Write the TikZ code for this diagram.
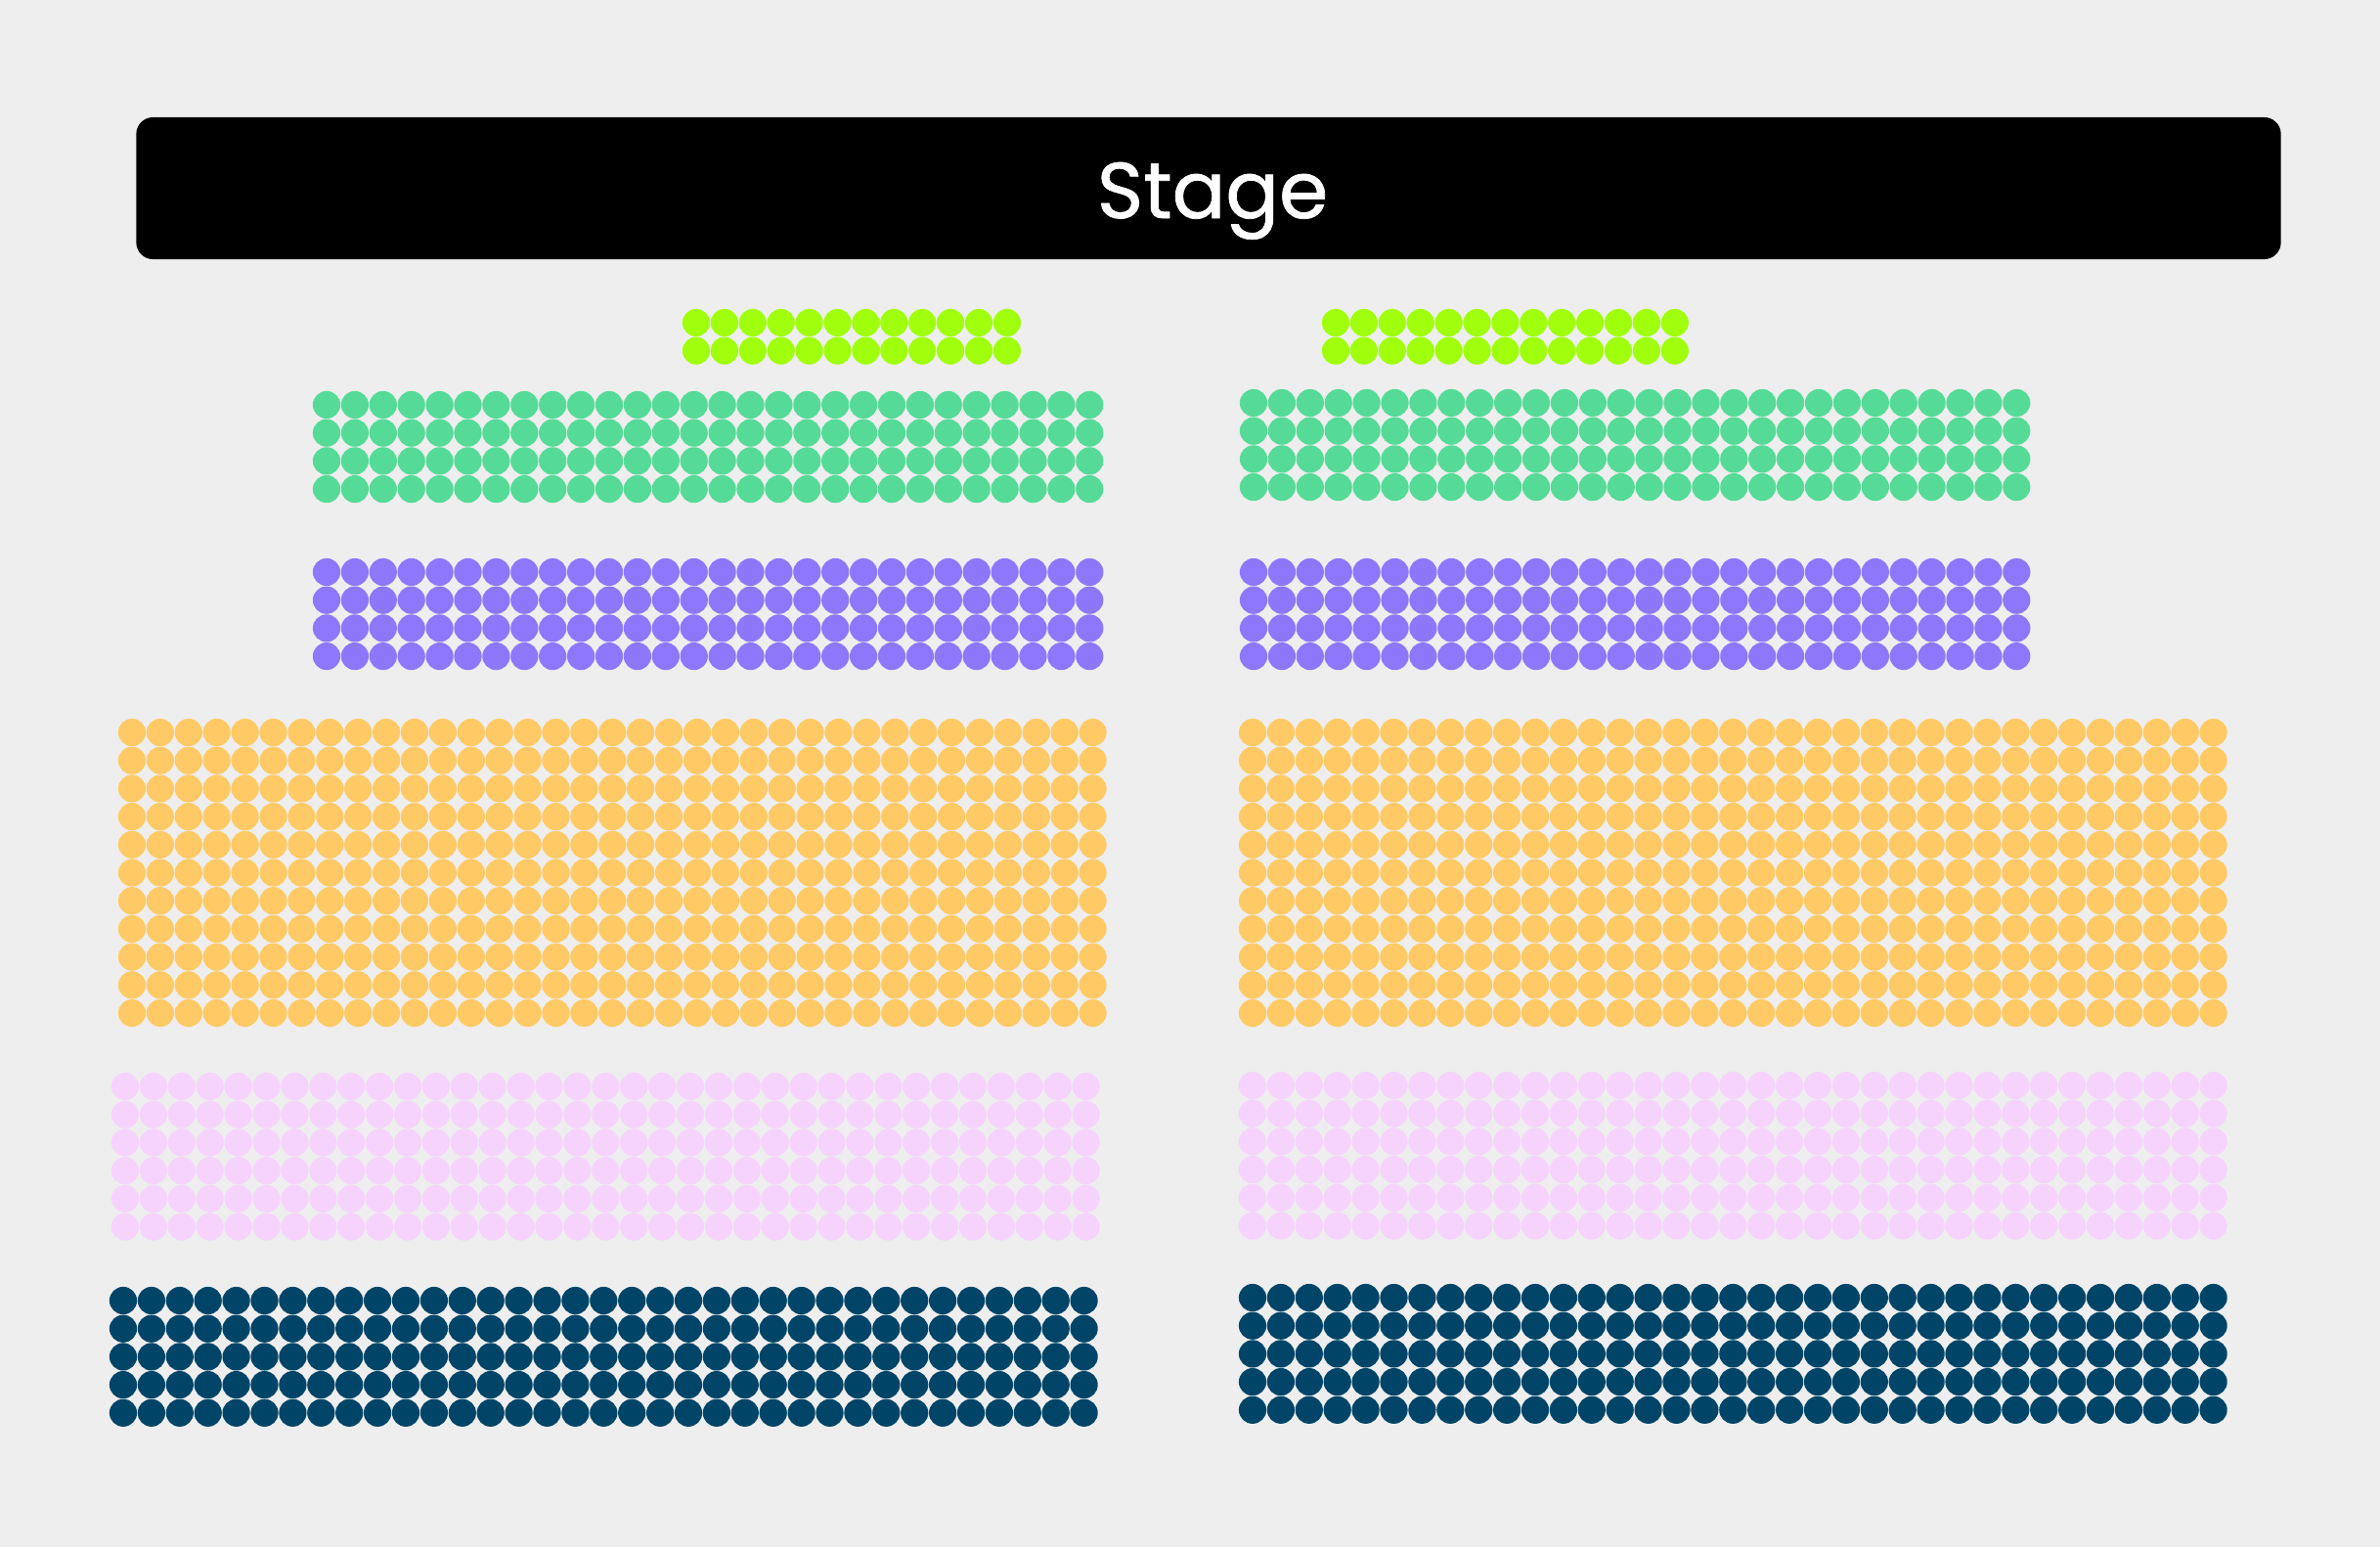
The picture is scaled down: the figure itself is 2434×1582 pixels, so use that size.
\documentclass[tikz,border=0pt]{standalone}
\usepackage{fontspec}
\newfontfamily\stagefont[FakeBold=0.9]{Poppins}

\definecolor{floor}{HTML}{EEEEEE}
\definecolor{lime}{HTML}{A0FF0C}
\definecolor{mint}{HTML}{55DB97}
\definecolor{violet}{HTML}{8E77FA}
\definecolor{amber}{HTML}{FFCA66}
\definecolor{blush}{HTML}{F6D3FD}
\definecolor{navy}{HTML}{004568}

\begin{document}
\begin{tikzpicture}[x=0.01cm, y=-0.01cm,
    stagebox/.style={rectangle, fill=black, rounded corners=0.17cm, minimum width=21.92cm, minimum height=1.45cm, inner sep=0pt},
    stagetext/.style={text=white, font=\stagefont\fontsize{23}{28}\selectfont, inner sep=0pt},
    seat/.style={radius=0.141cm}
]

% floor and page size
\fill[floor] (0,0) rectangle (2434,1582);
\useasboundingbox (0,0) rectangle (2434,1582);

% stage
\node[stagebox] (stage) at (1236,192.5) {};
\node[stagetext, anchor=base] (stagelabel) at (1240,223) {Stage};

% seat blocks: first seat x/y, columns, rows, colour
\foreach \xo/\yo/\nc/\nr/\col in {
    712/330/12/2/lime, 1366/330/13/2/lime,
    334/414/28/4/mint, 1282/412/28/4/mint,
    334/585/28/4/violet, 1282/585/28/4/violet,
    135/749/35/11/amber, 1281/749/35/11/amber,
    128/1111/35/6/blush, 1281/1110/35/6/blush,
    126/1330/35/5/navy, 1281/1327/35/5/navy}
  \foreach \i in {1,...,\nc}
    \foreach \j in {1,...,\nr}
      \fill[\col, seat] ({\xo+(\i-1)*28.9},{\yo+(\j-1)*28.7}) circle;

\end{tikzpicture}
\end{document}
